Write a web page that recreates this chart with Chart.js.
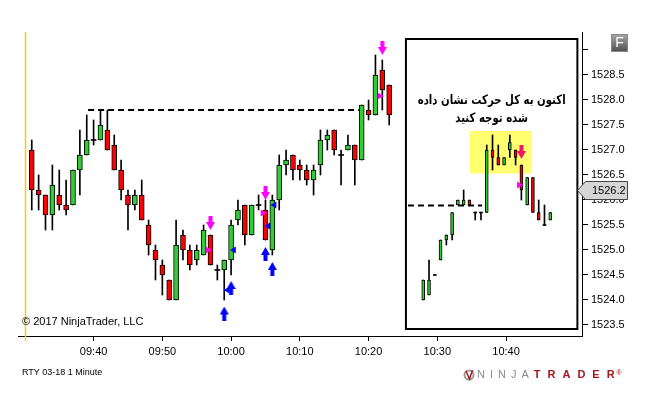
<!DOCTYPE html>
<html>
<head>
<meta charset="utf-8">
<script src="https://cdn.jsdelivr.net/npm/chart.js@4.4.1/dist/chart.umd.min.js"></script>
<style>
html, body { margin: 0; padding: 0; background: #fff; }
#wrap { width: 646px; height: 400px; }
</style>
</head>
<body>
<div id="wrap"><canvas id="chart" width="646" height="400"></canvas></div>
<script>
var TIMES = ['09:31', '09:32', '09:33', '09:34', '09:35', '09:36', '09:37', '09:38', '09:39', '09:40',
  '09:41', '09:42', '09:43', '09:44', '09:45', '09:46', '09:47', '09:48', '09:49', '09:50',
  '09:51', '09:52', '09:53', '09:54', '09:55', '09:56', '09:57', '09:58', '09:59', '10:00',
  '10:01', '10:02', '10:03', '10:04', '10:05', '10:06', '10:07', '10:08', '10:09', '10:10',
  '10:11', '10:12', '10:13', '10:14', '10:15', '10:16', '10:17', '10:18', '10:19', '10:20',
  '10:21', '10:22', '10:23'];
var OPEN = [1527.0, 1526.2, 1526.1, 1525.7, 1526.1, 1525.9, 1525.9, 1526.6, 1526.9, 1527.2,
  1527.2, 1527.4, 1527.1, 1526.6, 1526.1, 1525.9, 1526.1, 1525.5, 1525.0, 1524.7,
  1524.4, 1524.0, 1525.3, 1525.0, 1524.8, 1524.9, 1525.3, 1524.6, 1524.6, 1524.8,
  1525.6, 1525.9, 1525.3, 1525.9, 1525.8, 1525.0, 1526.0, 1526.7, 1526.9, 1526.7,
  1526.6, 1526.4, 1526.7, 1527.2, 1527.4, 1526.9, 1527.0, 1527.1, 1526.8, 1527.8,
  1527.7, 1528.6, 1528.3];
var HIGH = [1527.2, 1526.5, 1526.1, 1526.7, 1526.6, 1526.4, 1526.6, 1527.4, 1527.7, 1527.6,
  1527.8, 1527.8, 1527.3, 1526.8, 1526.2, 1526.2, 1526.4, 1525.6, 1525.1, 1524.8,
  1524.4, 1525.6, 1525.4, 1525.1, 1525.1, 1525.5, 1525.3, 1524.7, 1524.8, 1525.6,
  1526.0, 1525.9, 1525.9, 1526.1, 1526.0, 1526.1, 1526.9, 1527.0, 1526.9, 1526.8,
  1526.7, 1526.7, 1527.4, 1527.4, 1527.4, 1527.0, 1527.3, 1527.1, 1527.9, 1528.0,
  1528.9, 1528.8, 1528.3];
var LOW = [1525.8, 1525.8, 1525.4, 1525.4, 1525.8, 1525.7, 1525.9, 1526.1, 1526.9, 1527.1,
  1527.2, 1527.0, 1526.6, 1526.0, 1525.4, 1525.8, 1525.6, 1524.9, 1524.4, 1524.1,
  1524.0, 1524.0, 1524.8, 1524.6, 1524.7, 1524.9, 1524.7, 1524.4, 1524.0, 1524.5,
  1525.5, 1525.1, 1525.3, 1525.8, 1525.2, 1524.9, 1525.8, 1526.5, 1526.4, 1526.4,
  1526.3, 1526.1, 1526.5, 1527.0, 1526.9, 1526.3, 1527.0, 1526.3, 1526.8, 1527.6,
  1527.7, 1527.8, 1527.5];
var CLOSE = [1526.2, 1526.1, 1525.7, 1526.3, 1525.9, 1525.8, 1526.6, 1526.9, 1527.2, 1527.2,
  1527.5, 1527.0, 1526.6, 1526.2, 1525.9, 1526.1, 1525.6, 1525.1, 1524.8, 1524.5,
  1524.0, 1525.1, 1525.0, 1524.7, 1525.0, 1525.4, 1524.7, 1524.6, 1524.8, 1525.5,
  1525.8, 1525.3, 1525.9, 1525.9, 1525.2, 1526.0, 1526.7, 1526.8, 1526.6, 1526.6,
  1526.4, 1526.6, 1527.2, 1527.3, 1527.0, 1526.9, 1527.1, 1526.8, 1527.9, 1527.7,
  1528.5, 1528.2, 1527.7];

// bars pasted inside the framed box (their own bar spacing)
var BOX_IDX = [0, 1, 2, 3, 4, 5, 6, 7, 8, 9, 10, 11, 12, 13, 14, 15, 16, 17, 18, 19, 20, 21, 22];
var BOX_OPEN = [1524.0, 1524.1, 1524.5, 1524.8, 1525.2, 1525.3, 1525.9, 1525.9, 1526.0, 1525.75, 1525.75, 1525.75,
  1527.0, 1526.85, 1526.7, 1527.0, 1527.0, 1526.7, 1525.9, 1526.45, 1525.75, 1525.5, 1525.6];
var BOX_HIGH = [1524.4, 1524.8, 1524.5, 1525.2, 1525.3, 1525.75, 1526.0, 1526.2, 1526.0, 1525.75, 1525.75, 1527.1,
  1527.3, 1527.1, 1526.85, 1527.3, 1527.0, 1526.7, 1526.45, 1526.45, 1526.0, 1525.9, 1525.75];
var BOX_LOW = [1524.0, 1524.1, 1524.5, 1524.8, 1525.1, 1525.2, 1525.9, 1525.9, 1525.9, 1525.6, 1525.6, 1525.75,
  1526.6, 1526.7, 1526.7, 1526.85, 1526.7, 1526.0, 1525.9, 1525.75, 1525.6, 1525.5, 1525.6];
var BOX_CLOSE = [1524.4, 1524.4, 1524.5, 1525.2, 1525.3, 1525.75, 1526.0, 1526.0, 1525.9, 1525.75, 1525.75, 1527.0,
  1526.85, 1526.7, 1526.85, 1527.15, 1526.85, 1526.2, 1526.45, 1525.75, 1525.6, 1525.5, 1525.75];

var LEVEL_X = ['09:39.2', '10:19.5'];
var LEVEL_Y = 1527.8;
var BOX_LEVEL_X = [-2.65, 10.2];
var BOX_LEVEL_Y = 1525.89;

var SELL_X = ['09:57', '10:05', '10:22'];
var SELL_Y = [1525.54, 1526.14, 1529.04];
var BUY_X = ['09:59', '10:00', '10:05', '10:06'];
var BUY_Y = [1523.73, 1524.24, 1524.92, 1524.62];
var RIGHT_TRI_X = ['09:56.6', '10:04.6', '10:21.6'];
var RIGHT_TRI_Y = [1525.0, 1525.74, 1528.08];
var LEFT_TRI_X = ['09:59.5', '10:00.4', '10:05.4', '10:06.3'];
var LEFT_TRI_Y = [1524.2, 1525.0, 1525.48, 1525.9];
var BOX_SELL_X = [17];
var BOX_SELL_Y = [1526.96];
var BOX_TRI_X = [16.6];
var BOX_TRI_Y = [1526.3];

var X_TICKS = ['09:40', '09:50', '10:00', '10:10', '10:20', '10:30', '10:40'];
var Y_TICKS = [1523.5, 1524.0, 1524.5, 1525.0, 1525.5, 1526.0, 1526.5, 1527.0, 1527.5, 1528.0, 1528.5, 1529.0];
var SESSION_START = '09:30';
var LAST_PRICE = 1526.2;
var NOTE = ['اکنون به کل حرکت نشان داده', 'شده توجه کنید'];

var FRAME = { x0: -3.0, x1: 26.7, y0: 1523.42, y1: 1529.22 };
var HILITE = { x0: 8.1, x1: 18.8, y0: 1526.53, y1: 1527.38 };

var GREEN = '#32cd32';
var RED = '#ff0000';
var FONT = '"Liberation Sans", Arial, sans-serif';

function toMin(t) {
  var p = t.split(':');
  return parseInt(p[0], 10) * 60 + parseFloat(p[1]);
}

function fmtMin(m) {
  var h = Math.floor(m / 60), mm = Math.round(m % 60);
  return (h < 10 ? '0' : '') + h + ':' + (mm < 10 ? '0' : '') + mm;
}

function body(o, c) {
  if (o == c) return [o - 0.01, o + 0.01];
  return [o, c];
}

function candleSets(xs, o, h, l, c, axis, width) {
  var wicks = [], bodies = [], cols = [];
  xs.forEach(function(x, i) {
    wicks.push({ x: x, y: [l[i], h[i]] });
    bodies.push({ x: x, y: body(o[i], c[i]) });
    cols.push(o[i] == c[i] ? '#000' : (c[i] > o[i] ? GREEN : RED));
  });
  return [{
    type: 'bar', xAxisID: axis, data: wicks, backgroundColor: '#000',
    barThickness: 1, grouped: false, order: 2
  }, {
    type: 'bar', xAxisID: axis, data: bodies, backgroundColor: cols,
    borderColor: '#000', borderSkipped: false, barThickness: width, grouped: false, order: 1,
    borderWidth: function(ctx) { return cols[ctx.dataIndex] == '#000' ? 0 : 1; }
  }];
}

function arrowImg(color, up) {
  var cv = document.createElement('canvas');
  cv.width = 9; cv.height = 14;
  var g = cv.getContext('2d');
  g.fillStyle = color;
  if (up) { g.translate(0, 14); g.scale(1, -1); }
  g.fillRect(2.5, 0, 4, 7);
  g.beginPath();
  g.moveTo(0, 6); g.lineTo(9, 6); g.lineTo(4.5, 14); g.closePath();
  g.fill();
  return cv;
}

function points(xs, ys, conv) {
  return xs.map(function(x, i) { return { x: conv ? toMin(x) : x, y: ys[i] }; });
}

function marker(data, axis, style, color, rot, r) {
  return {
    type: 'scatter', xAxisID: axis, data: data, pointStyle: style, pointRotation: rot || 0,
    pointRadius: r || 5, backgroundColor: color, borderColor: color, borderWidth: 0, order: 0
  };
}

var datasets = []
  .concat(candleSets(TIMES.map(toMin), OPEN, HIGH, LOW, CLOSE, 'x', 5))
  .concat(candleSets(BOX_IDX, BOX_OPEN, BOX_HIGH, BOX_LOW, BOX_CLOSE, 'x2', 3));

datasets.push({
  type: 'line', xAxisID: 'x', data: LEVEL_X.map(function(x) { return { x: toMin(x), y: LEVEL_Y }; }),
  borderColor: '#000', borderWidth: 2, borderDash: [6, 4], pointRadius: 0, order: 3
});
datasets.push({
  type: 'line', xAxisID: 'x2', data: BOX_LEVEL_X.map(function(x) { return { x: x, y: BOX_LEVEL_Y }; }),
  borderColor: '#000', borderWidth: 2, borderDash: [6, 4], pointRadius: 0, order: 3
});
datasets.push(marker(points(SELL_X, SELL_Y, true), 'x', arrowImg('#ff00ff', false), '#ff00ff'));
datasets.push(marker(points(BUY_X, BUY_Y, true), 'x', arrowImg('#0000ff', true), '#0000ff'));
datasets.push(marker(points(RIGHT_TRI_X, RIGHT_TRI_Y, true), 'x', 'triangle', '#ff00ff', 90, 4));
datasets.push(marker(points(LEFT_TRI_X, LEFT_TRI_Y, true), 'x', 'triangle', '#0000ff', -90, 4));
datasets.push(marker(points(BOX_SELL_X, BOX_SELL_Y, false), 'x2', arrowImg('#f5145f', false), '#f5145f'));
datasets.push(marker(points(BOX_TRI_X, BOX_TRI_Y, false), 'x2', 'triangle', '#ff00ff', 90, 4));

var overlay = {
  id: 'overlay',
  beforeDatasetsDraw: function(chart) {
    var ctx = chart.ctx, a = chart.chartArea;
    var sx = chart.scales.x, bx = chart.scales.x2, sy = chart.scales.y;
    ctx.save();
    var lx = Math.round(sx.getPixelForValue(toMin(SESSION_START))) + 0.5;
    ctx.strokeStyle = '#ffcc00';
    ctx.lineWidth = 1.5;
    ctx.beginPath(); ctx.moveTo(lx, a.top); ctx.lineTo(lx, a.bottom + 5); ctx.stroke();

    ctx.fillStyle = '#ffff70';
    var hx = bx.getPixelForValue(HILITE.x0), hy = sy.getPixelForValue(HILITE.y1);
    ctx.fillRect(hx, hy, bx.getPixelForValue(HILITE.x1) - hx, sy.getPixelForValue(HILITE.y0) - hy);

    var fx = bx.getPixelForValue(FRAME.x0), fy = sy.getPixelForValue(FRAME.y1);
    var fw = bx.getPixelForValue(FRAME.x1) - fx, fh = sy.getPixelForValue(FRAME.y0) - fy;
    ctx.strokeStyle = '#000';
    ctx.lineWidth = 2;
    ctx.strokeRect(fx, fy, fw, fh);

    // note text, squeezed to the width it has in the original
    ctx.fillStyle = '#000';
    ctx.font = 'bold 13px "DejaVu Sans", sans-serif';
    ctx.textAlign = 'center';
    ctx.textBaseline = 'middle';
    ctx.direction = 'rtl';
    var k = Math.min(1, 148 / ctx.measureText(NOTE[0]).width);
    ctx.translate(fx + fw / 2, 0);
    ctx.scale(k, 1);
    ctx.fillText(NOTE[0], 0, fy + 62);
    ctx.fillText(NOTE[1], 0, fy + 80);
    ctx.restore();
  },
  afterDraw: function(chart) {
    var ctx = chart.ctx, sy = chart.scales.y;
    ctx.save();
    // last price marker
    var py = Math.round(sy.getPixelForValue(LAST_PRICE)) + 0.5;
    ctx.beginPath();
    ctx.moveTo(577.5, py); ctx.lineTo(585.5, py - 9); ctx.lineTo(627.5, py - 9);
    ctx.lineTo(627.5, py + 9); ctx.lineTo(585.5, py + 9); ctx.closePath();
    ctx.fillStyle = '#d6d6d6'; ctx.fill();
    ctx.strokeStyle = '#444'; ctx.lineWidth = 1; ctx.stroke();
    ctx.fillStyle = '#000';
    ctx.font = '11px ' + FONT;
    ctx.textBaseline = 'middle';
    ctx.fillText(LAST_PRICE.toFixed(1), 592, py);

    // F button
    var gr = ctx.createLinearGradient(0, 34, 0, 52);
    gr.addColorStop(0, '#a8a8a8'); gr.addColorStop(1, '#4e4e4e');
    ctx.fillStyle = gr;
    ctx.fillRect(611, 34, 17, 18);
    ctx.strokeStyle = '#8a8a8a';
    ctx.strokeRect(611.5, 34.5, 16, 17);
    ctx.fillStyle = '#fff';
    ctx.font = '14px ' + FONT;
    ctx.textAlign = 'center';
    ctx.fillText('F', 619.5, 43.5);

    ctx.textAlign = 'left';
    ctx.fillStyle = '#000';
    ctx.font = '11px ' + FONT;
    ctx.fillText('© 2017 NinjaTrader, LLC', 22, 322);
    ctx.font = '9px ' + FONT;
    ctx.fillText('RTY 03-18 1 Minute', 22, 373);

    // logo
    ctx.strokeStyle = '#9a9a9a'; ctx.lineWidth = 2;
    ctx.beginPath(); ctx.arc(469, 375, 4.5, 0, Math.PI * 2); ctx.stroke();
    ctx.strokeStyle = '#a3191f'; ctx.lineWidth = 1.5;
    ctx.beginPath(); ctx.moveTo(466, 371); ctx.lineTo(469.5, 379); ctx.lineTo(472.5, 370); ctx.stroke();
    var x = 477;
    ctx.font = '11px ' + FONT;
    ctx.fillStyle = '#8c8c8c';
    'NINJA'.split('').forEach(function(ch) { ctx.fillText(ch, x, 375); x += ctx.measureText(ch).width + 5; });
    ctx.font = 'bold 11px ' + FONT;
    ctx.fillStyle = '#a3191f';
    'TRADER'.split('').forEach(function(ch) { ctx.fillText(ch, x, 375); x += ctx.measureText(ch).width + 7; });
    ctx.font = '7px ' + FONT;
    ctx.fillText('®', x - 5, 373);
    ctx.restore();
  }
};

Chart.defaults.font.family = FONT;
Chart.defaults.color = '#000';

var chart = new Chart(document.getElementById('chart'), {
  type: 'bar',
  data: { datasets: datasets },
  options: {
    responsive: false,
    animation: false,
    events: [],
    layout: { padding: { top: 32, left: 18, right: 0, bottom: 0 } },
    plugins: { legend: { display: false }, tooltip: { enabled: false } },
    scales: {
      x: {
        type: 'linear', position: 'bottom', min: 569.0, max: 651.05, offset: false,
        grid: { drawOnChartArea: false, drawTicks: true, tickLength: 5, color: '#000', offset: false },
        border: { color: '#000' },
        ticks: { font: { size: 11 }, color: '#000', padding: 4, maxRotation: 0,
          callback: function(v) { return fmtMin(v); } },
        afterBuildTicks: function(scale) { scale.ticks = X_TICKS.map(function(t) { return { value: toMin(t) }; }); },
        afterFit: function(scale) { scale.height = 64; }
      },
      x2: { type: 'linear', display: false, min: -70.2, max: 27.5, offset: false },
      y: {
        type: 'linear', position: 'right', min: 1523.28, max: 1529.36,
        grid: { drawOnChartArea: false, tickLength: 6, color: '#000' },
        border: { color: '#000' },
        ticks: { font: { size: 11 }, color: '#000', padding: 3,
          callback: function(v) { return v <= 1528.5 ? v.toFixed(1) : ''; } },
        afterBuildTicks: function(scale) { scale.ticks = Y_TICKS.map(function(v) { return { value: v }; }); },
        afterFit: function(scale) { scale.width = 64; }
      }
    }
  },
  plugins: [overlay]
});
</script>
</body>
</html>
